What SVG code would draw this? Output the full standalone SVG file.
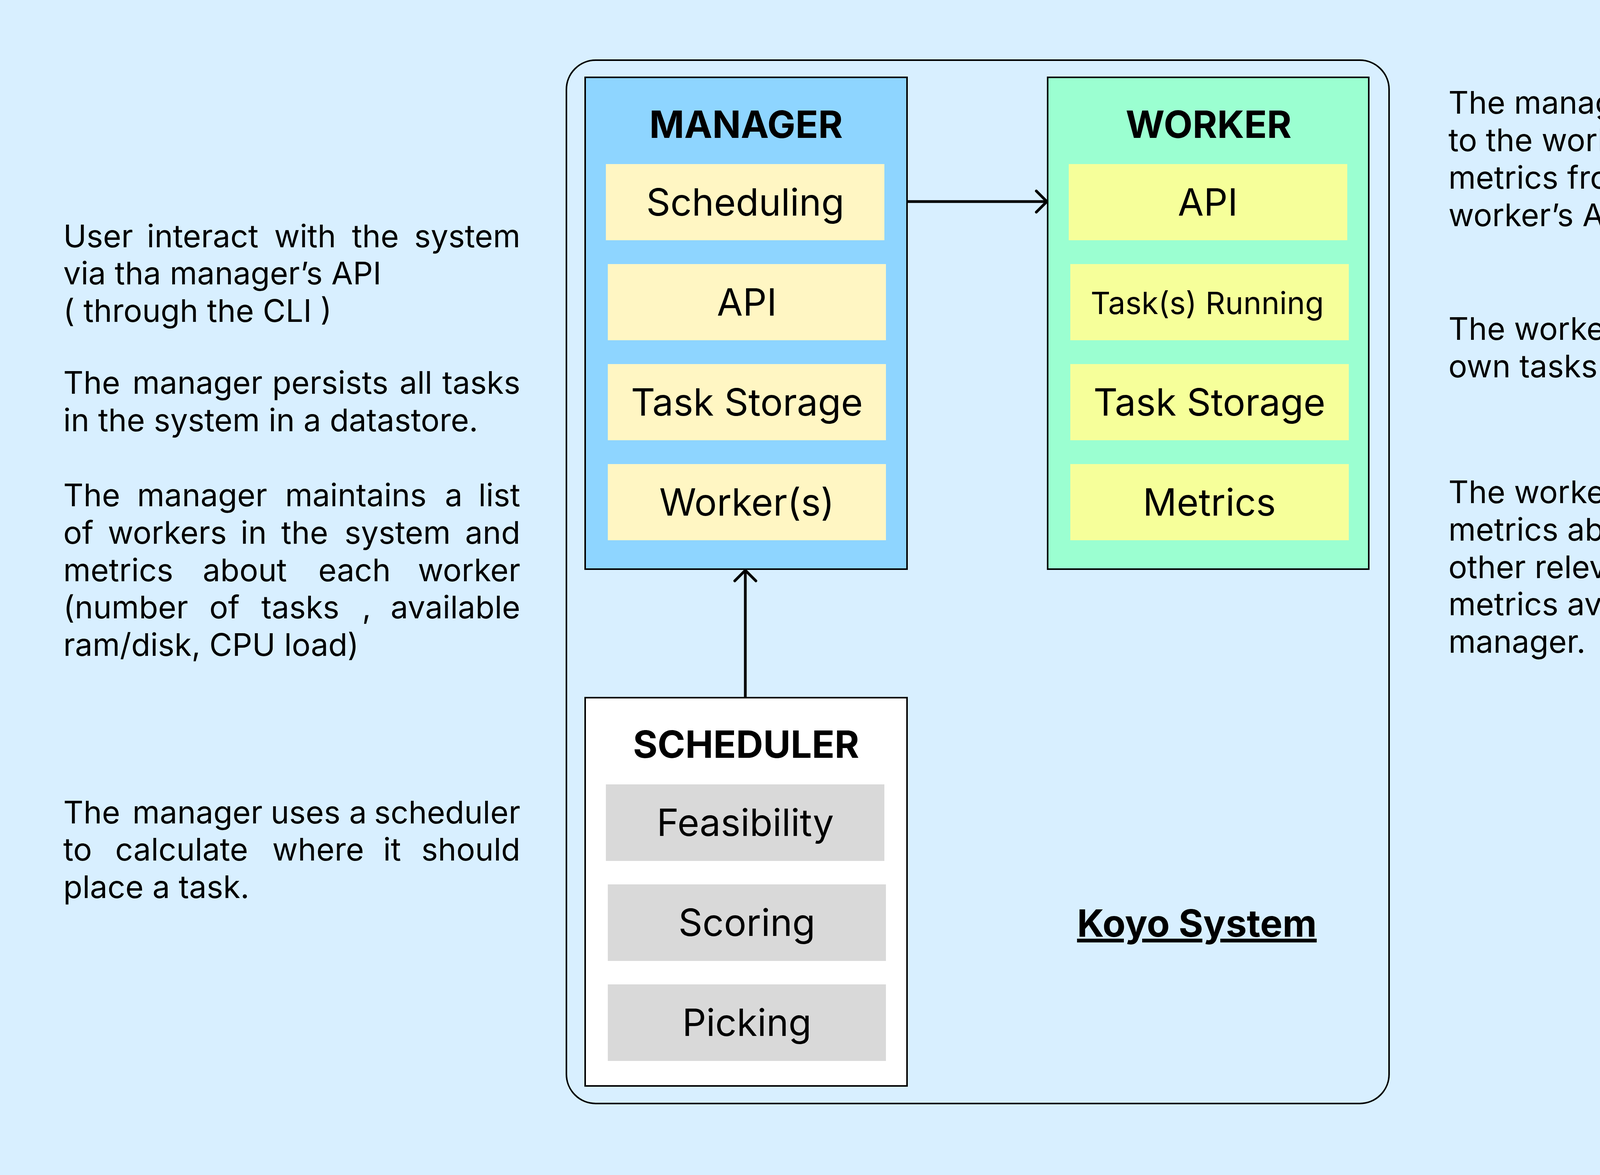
<svg xmlns="http://www.w3.org/2000/svg" width="5176" height="3008" viewBox="0 0 5176 3008">
<style>
text { font-family: Inter, "Liberation Sans", sans-serif; fill: #000; }
.note { font-size: 80px; }
.r { text-anchor: end; }
.title { font-size: 96px; font-weight: 700; text-anchor: middle; }
.item { font-size: 96px; text-anchor: middle; }
.box { stroke: #000; stroke-width: 4; }
.mi { fill: #fff6c3; }
.wi { fill: #f6ff9a; }
.si { fill: #d9d9d9; }
.conn { stroke: #000; stroke-width: 7; fill: none; }
</style>
<defs>
<marker id="arrow" viewBox="-40 -40 50 80" refX="0" refY="0" markerWidth="50" markerHeight="80" markerUnits="userSpaceOnUse" orient="auto">
<path d="M-27,-27 L0,0 L-27,27" fill="none" stroke="#000" stroke-width="7" stroke-linecap="round" stroke-linejoin="round"/>
</marker>
</defs>
<rect width="5176" height="3008" fill="#d8efff"/>

<g id="koyo-system">
<rect x="1450" y="154" width="2106" height="2671" rx="75" ry="75" fill="none" stroke="#000" stroke-width="4"/>
<text x="3064" y="2398" class="title" text-decoration="underline">Koyo System</text>
</g>

<g id="manager">
<rect class="box" x="1498" y="198" width="824" height="1259" fill="#8ed5ff"/>
<text class="title" x="1910" y="353">MANAGER</text>
<g id="manager-scheduling"><rect class="mi" x="1551" y="420" width="713" height="195"/><text class="item" x="1908" y="552">Scheduling</text></g>
<g id="manager-api"><rect class="mi" x="1556" y="676" width="712" height="195"/><text class="item" x="1912" y="808">API</text></g>
<g id="manager-task-storage"><rect class="mi" x="1556" y="932" width="712" height="195"/><text class="item" x="1912" y="1064">Task Storage</text></g>
<g id="manager-workers"><rect class="mi" x="1556" y="1188" width="712" height="195"/><text class="item" x="1912" y="1320">Worker(s)</text></g>
</g>

<g id="worker">
<rect class="box" x="2682" y="198" width="822" height="1259" fill="#9bffd1"/>
<text class="title" x="3094" y="353">WORKER</text>
<g id="worker-api"><rect class="wi" x="2736" y="420" width="713" height="195"/><text class="item" x="3092" y="552">API</text></g>
<g id="worker-tasks-running"><rect class="wi" x="2740" y="676" width="713" height="195"/><text x="2792" y="804" font-size="79" textLength="597" lengthAdjust="spacingAndGlyphs">Task(s) Running</text></g>
<g id="worker-task-storage"><rect class="wi" x="2740" y="932" width="713" height="195"/><text class="item" x="3096" y="1064">Task Storage</text></g>
<g id="worker-metrics"><rect class="wi" x="2740" y="1188" width="713" height="195"/><text class="item" x="3096" y="1320">Metrics</text></g>
</g>

<g id="scheduler">
<rect class="box" x="1498" y="1786" width="824" height="994" fill="#ffffff"/>
<text class="title" x="1910" y="1940">SCHEDULER</text>
<g id="scheduler-feasibility"><rect class="si" x="1551" y="2008" width="713" height="196"/><text class="item" x="1908" y="2140">Feasibility</text></g>
<g id="scheduler-scoring"><rect class="si" x="1556" y="2264" width="712" height="196"/><text class="item" x="1912" y="2396">Scoring</text></g>
<g id="scheduler-picking"><rect class="si" x="1556" y="2520" width="712" height="196"/><text class="item" x="1912" y="2652">Picking</text></g>
</g>

<g id="connectors">
<line class="conn" x1="2324" y1="516" x2="2680" y2="516" marker-end="url(#arrow)"/>
<line class="conn" x1="1908" y1="1784" x2="1908" y2="1460" marker-end="url(#arrow)"/>
</g>

<g id="notes-left" class="note">
<text y="633"><tspan x="162">User</tspan><tspan x="376">interact</tspan><tspan x="702">with</tspan><tspan x="901">the</tspan><tspan x="1332" class="r">system</tspan></text>
<text x="162" y="728">via tha manager’s API</text>
<text x="162" y="824">( through the CLI )</text>

<text y="1008"><tspan x="162">The</tspan><tspan x="339">manager</tspan><tspan x="697">persists</tspan><tspan x="1023">all</tspan><tspan x="1332" class="r">tasks</tspan></text>
<text x="162" y="1104">in the system in a datastore.</text>

<text y="1296"><tspan x="162">The</tspan><tspan x="351">manager</tspan><tspan x="730">maintains</tspan><tspan x="1139">a</tspan><tspan x="1332" class="r">list</tspan></text>
<text y="1392"><tspan x="162">of</tspan><tspan x="276">workers</tspan><tspan x="616">in</tspan><tspan x="720">the</tspan><tspan x="882">system</tspan><tspan x="1332" class="r">and</tspan></text>
<text y="1488"><tspan x="162">metrics</tspan><tspan x="519">about</tspan><tspan x="815">each</tspan><tspan x="1332" class="r">worker</tspan></text>
<text y="1583"><tspan x="162">(number</tspan><tspan x="536">of</tspan><tspan x="669">tasks</tspan><tspan x="927">,</tspan><tspan x="1332" class="r">available</tspan></text>
<text x="162" y="1679">ram/disk, CPU load)</text>

<text y="2108"><tspan x="162">The</tspan><tspan x="339">manager</tspan><tspan x="693">uses</tspan><tspan x="894">a</tspan><tspan x="1332" class="r">scheduler</tspan></text>
<text y="2203"><tspan x="162">to</tspan><tspan x="295">calculate</tspan><tspan x="697">where</tspan><tspan x="981">it</tspan><tspan x="1332" class="r">should</tspan></text>
<text x="162" y="2299">place a task.</text>
</g>

<g id="notes-right" class="note">
<text x="3708" y="291">The manager sends tasks</text>
<text x="3708" y="387">to the worker and pulls</text>
<text x="3708" y="483">metrics from it via the</text>
<text x="3708" y="579">worker’s API.</text>

<text x="3708" y="870">The worker persists its</text>
<text x="3708" y="966">own tasks in a datastore.</text>

<text x="3708" y="1288">The worker makes</text>
<text x="3708" y="1384">metrics about its task and</text>
<text x="3708" y="1480">other relevant system</text>
<text x="3708" y="1575">metrics available to the</text>
<text x="3708" y="1671">manager.</text>
</g>
</svg>
